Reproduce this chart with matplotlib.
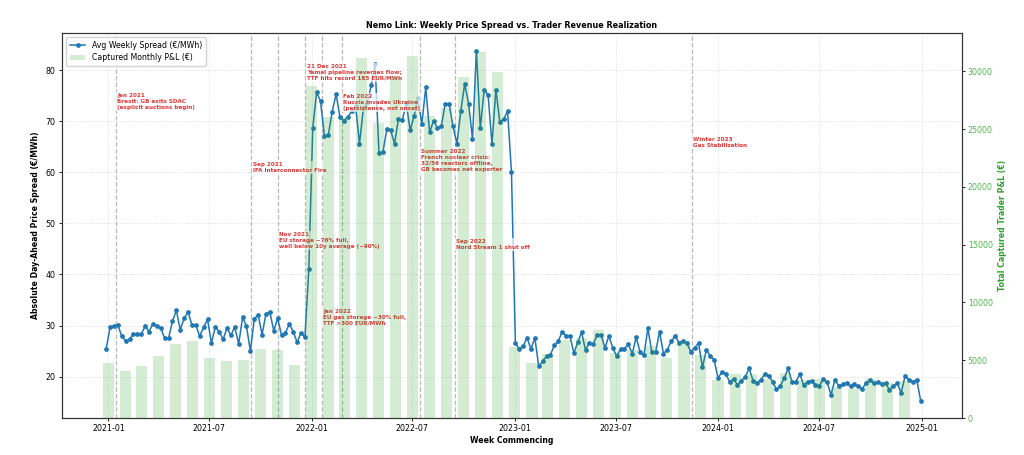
import matplotlib
matplotlib.use("Agg")
import matplotlib.pyplot as plt
import matplotlib.dates as mdates
from matplotlib.lines import Line2D
from matplotlib.patches import Patch
import pandas as pd
import numpy as np

# ---------------- data ----------------
spread_2021 = [25.45, 29.7, 29.9, 30.1, 27.9, 27.0, 27.3, 28.4, 28.3, 28.3,
               29.9, 28.8, 30.4, 29.9, 29.5, 27.5, 27.5, 30.8, 33.0, 29.2,
               31.4, 32.7, 30.1, 30.1, 27.9, 29.7, 31.2, 26.6, 29.7, 28.8,
               27.3, 29.5, 28.1, 29.7, 26.4, 31.6, 29.9, 25.0, 31.3, 32.1,
               28.2, 32.3, 32.6, 29.0, 31.4, 28.1, 28.6, 30.3, 28.8, 26.7,
               28.6, 27.7]
spread_2022 = [41.0, 68.6, 75.7, 73.9, 67.1, 67.3, 71.9, 75.3, 70.8, 70.1,
               70.8, 72.0, 73.0, 65.6, 72.5, 73.5, 77.0, 81.2, 63.8, 63.9,
               68.4, 68.2, 65.6, 70.5, 70.2, 73.5, 68.2, 71.0, 74.5, 69.4,
               76.6, 67.8, 70.1, 68.7, 69.0, 73.4, 73.4, 69.0, 65.6, 72.0,
               77.3, 73.4, 66.5, 83.8, 68.6, 76.2, 75.1, 65.5, 76.2, 69.9,
               70.4, 72.0, 60.0]
spread_2023 = [26.6, 25.4, 26.0, 27.6, 25.4, 27.6, 22.0, 23.0, 24.0, 24.3,
               26.1, 26.9, 28.8, 28.0, 28.0, 24.6, 26.7, 28.7, 25.2, 26.6,
               26.4, 28.2, 28.2, 25.6, 28.0, 25.6, 24.0, 25.4, 25.5, 26.3,
               24.5, 27.7, 24.8, 24.2, 29.5, 24.8, 24.8, 28.8, 24.5, 25.3,
               26.9, 28.0, 26.6, 26.9, 26.6, 24.9, 25.6, 26.6, 21.8, 25.2,
               24.1, 23.3]
spread_2024 = [19.7, 20.9, 20.5, 19.0, 19.5, 18.4, 19.2, 20.0, 21.6, 19.2,
               18.7, 19.4, 20.5, 20.2, 19.0, 17.5, 18.2, 19.7, 21.6, 18.9,
               19.0, 20.5, 18.3, 19.0, 19.2, 18.4, 18.2, 19.5, 18.9, 16.4,
               19.4, 18.2, 18.5, 18.8, 18.1, 18.6, 18.1, 17.6, 18.8, 19.4,
               18.7, 18.9, 18.5, 18.7, 17.4, 18.2, 18.7, 16.8, 20.1, 19.4,
               19.0, 19.4, 15.3]
spread = spread_2021 + spread_2022 + spread_2023 + spread_2024
weeks = pd.date_range("2020-12-28", periods=len(spread), freq="7D")

pnl_2021 = [4800, 4100, 4500, 5350, 6400, 6700, 5200, 4900, 5000, 6000, 5900, 4600]
pnl_2022 = [28700, 26000, 26000, 31100, 25500, 29500, 31300, 26100, 26800, 29500, 31700, 29900]
pnl_2023 = [6150, 4800, 5550, 6800, 6900, 7650, 5600, 5850, 6200, 5200, 6600, 5500]
pnl_2024 = [3300, 3850, 3850, 3400, 3900, 3300, 3350, 2700, 2500, 3350, 3000, 3200]
pnl = pnl_2021 + pnl_2022 + pnl_2023 + pnl_2024
months = pd.date_range("2021-01-01", periods=len(pnl), freq="MS")

event_dates = ["2021-01-15", "2021-09-15", "2021-11-01", "2021-12-21", "2022-01-20",
               "2022-02-24", "2022-07-15", "2022-09-15", "2023-11-15"]
event_labels = [
    "Jan 2021\nBrexit: GB exits SDAC\n(explicit auctions begin)",
    "Sep 2021\nIFA Interconnector Fire",
    "Nov 2021\nEU storage ~76% full,\nwell below 10y average (~90%)",
    "21 Dec 2021\nYamal pipeline reverses flow;\nTTF hits record 185 EUR/MWh",
    "Jan 2022\nEU gas storage ~30% full,\nTTF >300 EUR/MWh",
    "Feb 2022\nRussia invades Ukraine\n(persistence, not onset)",
    "Summer 2022\nFrench nuclear crisis:\n32/56 reactors offline,\nGB becomes net exporter",
    "Sep 2022\nNord Stream 1 shut off",
    "Winter 2023\nGas Stabilization",
]
event_text_y = [73.9, 60.9, 46.6, 79.6, 31.6, 73.6, 62.3, 45.9, 65.9]

# ---------------- plot ----------------
fig = plt.figure(figsize=(10.24, 4.55), dpi=100)
ax1 = fig.add_axes([0.0605, 0.081, 0.8785, 0.846])

ax1.plot(weeks, spread, color="#1f77b4", marker="o", markersize=2.4,
         linewidth=1.1, label="Avg Weekly Spread (€/MWh)", zorder=2)

for d, lab, ty in zip(event_dates, event_labels, event_text_y):
    dt = pd.Timestamp(d)
    ax1.axvline(dt, color="gray", linestyle="--", linewidth=0.9, alpha=0.55, zorder=1)
    ax1.text(dt + pd.Timedelta(days=2), ty, lab, fontsize=4.1, fontweight="bold",
             color="#e03535", ha="left", va="center", linespacing=1.25, zorder=3,
             bbox=dict(facecolor="white", edgecolor="none", alpha=0.7, pad=0.6))

ax1.grid(True, linestyle=":", linewidth=0.6, color="#cccccc", alpha=0.8)
ax1.set_ylabel("Absolute Day-Ahead Price Spread (€/MWh)", fontsize=5.6, fontweight="bold")
ax1.set_xlabel("Week Commencing", fontsize=5.6, fontweight="bold", labelpad=2)
ax1.tick_params(axis="both", labelsize=5.7, length=2.5, width=0.6, pad=2)
ax1.xaxis.set_major_locator(mdates.MonthLocator(bymonth=[1, 7]))
ax1.xaxis.set_major_formatter(mdates.DateFormatter("%Y-%m"))
ax1.set_title("Nemo Link: Weekly Price Spread vs. Trader Revenue Realization",
              fontsize=5.8, fontweight="bold", pad=4)

ax2 = ax1.twinx()
ax2.bar(months, pnl, width=20, color="#2ca02c", alpha=0.2,
        label="Captured Monthly P&L (€)")
ax2.set_ylabel("Total Captured Trader P&L (€)", fontsize=5.6, fontweight="bold",
               color="#2ca02c")
ax2.tick_params(axis="y", labelsize=5.7, labelcolor="#4cb84c", length=2.5,
                width=0.6, pad=2)

for ax in (ax1, ax2):
    for s in ax.spines.values():
        s.set_linewidth(0.8)
        s.set_color("#333333")

handles = [Line2D([0], [0], color="#1f77b4", marker="o", markersize=2.4, linewidth=1.1),
           Patch(facecolor="#2ca02c", alpha=0.2, edgecolor="none")]
ax2.legend(handles, ["Avg Weekly Spread (€/MWh)", "Captured Monthly P&L (€)"],
           loc="upper left", fontsize=5.6, framealpha=0.85, borderpad=0.5,
           handlelength=2.0, labelspacing=0.4)

fig.savefig("out.png", dpi=100)
